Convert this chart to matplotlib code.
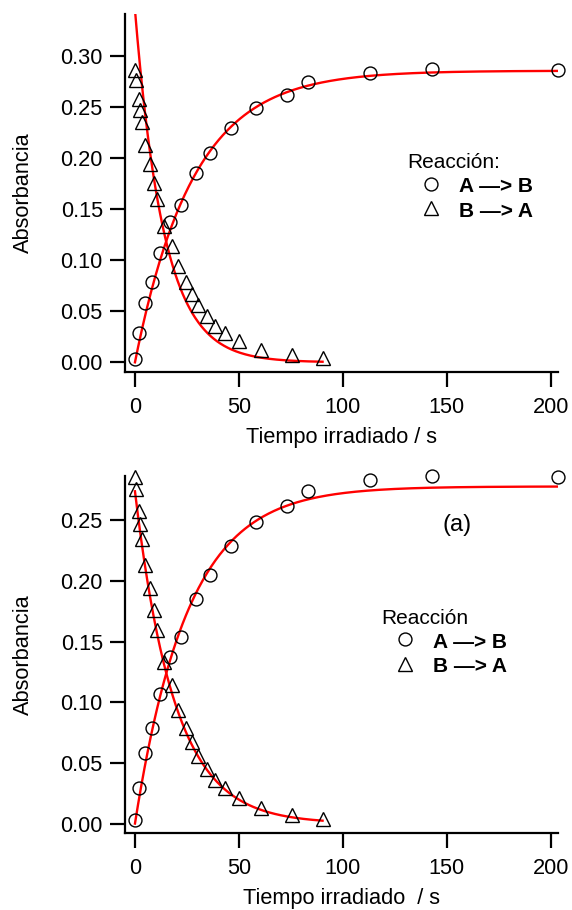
"""Absorbance vs irradiation time: A->B / B->A photoconversion with exponential fits."""

import matplotlib

matplotlib.use("Agg")
import matplotlib.pyplot as plt
import numpy as np
from matplotlib.lines import Line2D

plt.rcParams["font.family"] = ["Liberation Sans", "DejaVu Sans"]

T_AB = [0, 2, 5, 8, 12, 17, 22, 29.5, 36, 46, 58, 73, 83, 113, 143, 203.5]
ABS_AB = [0.003, 0.029, 0.058, 0.079, 0.107, 0.137, 0.154, 0.185, 0.205,
          0.229, 0.249, 0.262, 0.274, 0.283, 0.287, 0.286]

T_BA = [0, 0.5, 1.8, 2.5, 3.4, 5, 7.2, 9, 10.7, 14.1, 17.6, 20.8, 24.4,
        27.2, 30.4, 34.5, 38.5, 43.4, 50, 60.6, 75.6, 90.2]
ABS_BA = [0.286, 0.276, 0.258, 0.247, 0.235, 0.213, 0.194, 0.176, 0.160,
          0.133, 0.114, 0.094, 0.079, 0.067, 0.056, 0.045, 0.036, 0.029,
          0.021, 0.0125, 0.007, 0.004]

# Single-exponential fits (plateau / amplitude, time constant in s)
FIT_TOP = {"ab": (0.2855, 28.0), "ba": (0.345, 14.0)}
FIT_BOTTOM = {"ab": (0.278, 25.5), "ba": (0.274, 19.0)}

X_TICKS = [0, 50, 100, 150, 200]
Y_TICKS_TOP = [0.00, 0.05, 0.10, 0.15, 0.20, 0.25, 0.30]
Y_TICKS_BOTTOM = [0.00, 0.05, 0.10, 0.15, 0.20, 0.25]

FIT_RED = "#FF0000"
FS = 15.7      # axis/tick text
FS_LEG = 15


def _style_axes(ax, yticks, ylim, xlabel):
    for side in ("top", "right"):
        ax.spines[side].set_visible(False)
    for side in ("left", "bottom"):
        ax.spines[side].set_linewidth(1.6)
    ax.set_xlim(-4.8, 203.4)
    ax.set_ylim(*ylim)
    ax.set_xticks(X_TICKS)
    ax.set_yticks(yticks)
    ax.set_yticklabels([f"{v:.2f}" for v in yticks])
    ax.tick_params(axis="both", direction="out", length=11, width=1.6, labelsize=FS)
    ax.tick_params(axis="y", pad=5)
    ax.tick_params(axis="x", pad=7)
    ax.set_ylabel("Absorbancia", fontsize=FS)
    ax.set_xlabel(xlabel, fontsize=FS)
    ax.yaxis.set_label_coords(-0.21, 0.5)
    ax.xaxis.set_label_coords(0.5, -0.155)


def _draw_panel(ax, fit):
    p_ab, tau_ab = fit["ab"]
    a0_ba, tau_ba = fit["ba"]
    t1 = np.linspace(0, T_AB[-1], 400)
    t2 = np.linspace(0, T_BA[-1], 300)
    ax.plot(t1, p_ab * (1 - np.exp(-t1 / tau_ab)), color=FIT_RED, lw=1.7, zorder=3)
    ax.plot(t2, a0_ba * np.exp(-t2 / tau_ba), color=FIT_RED, lw=1.7, zorder=3)
    ax.plot(T_AB, ABS_AB, ls="none", marker="o", ms=9.3, mfc="none", mec="black",
            mew=1.0, clip_on=False, zorder=4)
    ax.plot(T_BA, ABS_BA, ls="none", marker="^", ms=9.5, mfc="none", mec="black",
            mew=1.0, clip_on=False, zorder=4)


def _legend(ax, title, anchor):
    handles = [
        Line2D([], [], ls="none", marker="o", ms=9.3, mfc="none", mec="black", mew=1.0),
        Line2D([], [], ls="none", marker="^", ms=9.5, mfc="none", mec="black", mew=1.0),
    ]
    leg = ax.legend(handles, ["A —> B", "B —> A"], title=title, loc="upper left",
                    bbox_to_anchor=anchor, frameon=False, borderpad=0, borderaxespad=0,
                    handlelength=2.3, handleheight=1.1, handletextpad=0.2,
                    labelspacing=0.15, alignment="left",
                    prop={"size": FS_LEG, "weight": "bold"}, title_fontsize=FS_LEG)
    return leg


fig = plt.figure(figsize=(5.72, 9.10), dpi=100)
ax_top = fig.add_axes([0.2185, 0.5912, 0.757, 0.3934])
ax_bot = fig.add_axes([0.2185, 0.0846, 0.757, 0.3923])

_draw_panel(ax_top, FIT_TOP)
_style_axes(ax_top, Y_TICKS_TOP, (-0.0095, 0.341), "Tiempo irradiado / s")
_legend(ax_top, "Reacción:", (0.651, 0.611))

_draw_panel(ax_bot, FIT_BOTTOM)
_style_axes(ax_bot, Y_TICKS_BOTTOM, (-0.0078, 0.2866), "Tiempo irradiado  / s")
_legend(ax_bot, "Reacción", (0.591, 0.628))
ax_bot.text(0.767, 0.862, "(a)", transform=ax_bot.transAxes, fontsize=17,
            ha="center", va="center")

fig.savefig("out.png", dpi=100)
plt.close(fig)
